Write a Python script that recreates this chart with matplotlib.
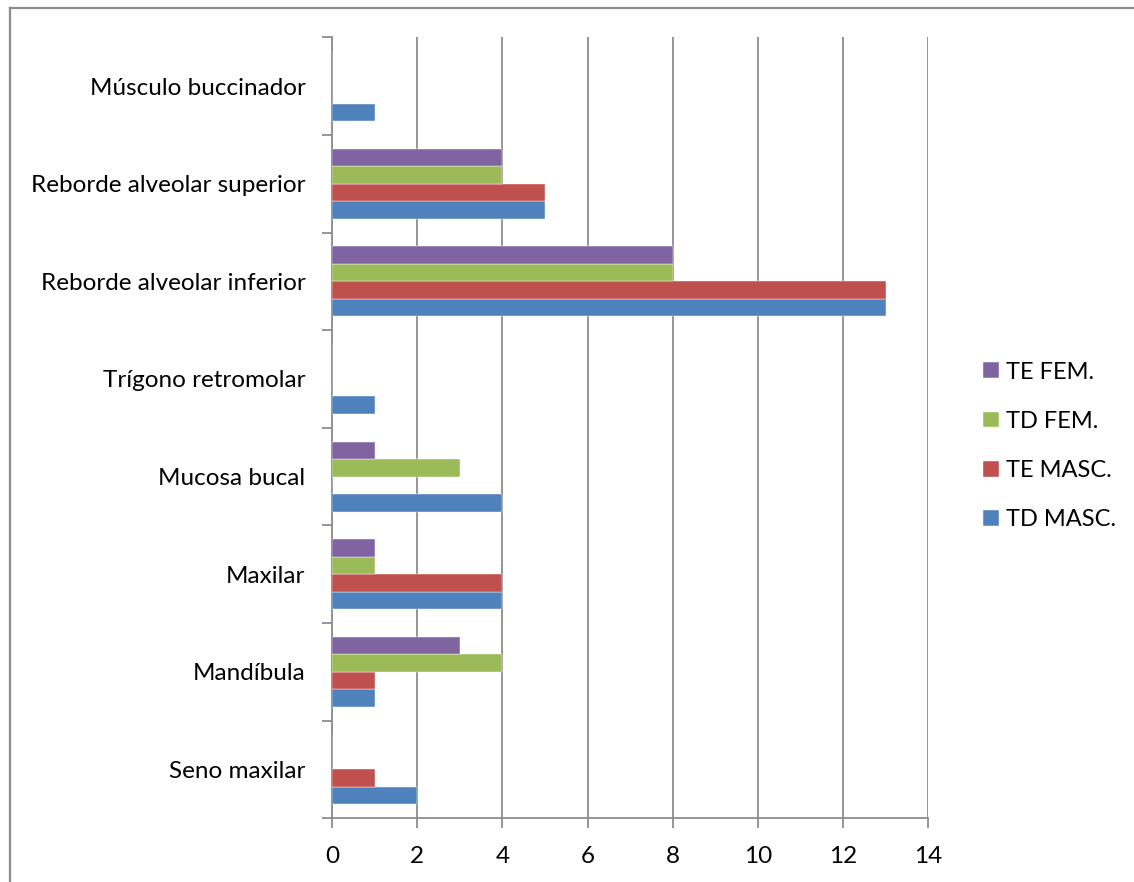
import numpy as np
import matplotlib
matplotlib.use("Agg")
import matplotlib.pyplot as plt
from matplotlib.lines import Line2D

plt.rcParams['font.family'] = ['Lato', 'DejaVu Sans']

# categories, bottom to top
categories = ["Seno maxilar", "Mandíbula", "Maxilar", "Mucosa bucal",
              "Trígono retromolar", "Reborde alveolar inferior",
              "Reborde alveolar superior", "Músculo buccinador"]
td_masc = [2, 1, 4, 4, 1, 13, 5, 1]
te_masc = [1, 1, 4, 0, 0, 13, 5, 0]
td_fem = [0, 4, 1, 3, 0, 8, 4, 0]
te_fem = [0, 3, 1, 1, 0, 8, 4, 0]
series_names = ["TD MASC.", "TE MASC.", "TD FEM.", "TE FEM."]
colors = ["#4F81BD", "#C0504D", "#9BBB59", "#8064A2"]
x_ticks = [0, 2, 4, 6, 8, 10, 12, 14]

W, H = 1134, 882
fig = plt.figure(figsize=(W / 100, H / 100), dpi=100)
fig.patch.set_facecolor("white")

# outer chart frame (only left/top visible)
fig.add_artist(Line2D([9.5 / W, 9.5 / W], [0, 1 - 7.5 / H], color="#8c8c8c", lw=1.6))
fig.add_artist(Line2D([9.5 / W, 1], [1 - 7.5 / H, 1 - 7.5 / H], color="#8c8c8c", lw=1.6))

left, right, top, bottom = 332, 928.3, 37.3, 818.3
ax = fig.add_axes([left / W, 1 - bottom / H, (right - left) / W, (bottom - top) / H])

y = np.arange(len(categories))
bh = 0.179
data = [td_masc, te_masc, td_fem, te_fem]
bars = []
for i, (vals, name, c) in enumerate(zip(data, series_names, colors)):
    offs = (i - 1.5) * bh
    b = ax.barh(y + offs, vals, height=bh, color=c, label=name, zorder=3,
                edgecolor="white", linewidth=0.3)
    bars.append(b)

fs = 17.5
ax.set_xlim(0, 14)
ax.set_ylim(-0.5, len(categories) - 0.5)
ax.set_xticks(x_ticks)
ax.set_xticklabels([str(t) for t in x_ticks], fontsize=fs)
ax.set_yticks(np.arange(-0.5, len(categories), 1.0))
ax.set_yticklabels([])
ax.set_yticks(y, minor=True)
ax.set_yticklabels(categories, minor=True, fontsize=fs)
ax.tick_params(axis="y", which="minor", length=0, pad=19)
ax.tick_params(axis="y", which="major", length=7, width=1.3, color="#8c8c8c")
ax.tick_params(axis="x", length=7, width=1.3, color="#8c8c8c", pad=13)
ax.grid(axis="x", color="#8c8c8c", linewidth=1.3, zorder=0)
for s in ["top", "right"]:
    ax.spines[s].set_visible(False)
for s in ["left", "bottom"]:
    ax.spines[s].set_color("#8c8c8c")
    ax.spines[s].set_linewidth(1.3)

handles = [bars[i] for i in [3, 2, 1, 0]]
labels = [series_names[i] for i in [3, 2, 1, 0]]
fig.legend(handles, labels, loc="center left", bbox_to_anchor=(962 / W, 1 - 446 / H),
           frameon=False, fontsize=17, handlelength=0.65, handleheight=0.65,
           handletextpad=0.3, labelspacing=1.2)

fig.savefig("out.png", dpi=100, facecolor="white")
